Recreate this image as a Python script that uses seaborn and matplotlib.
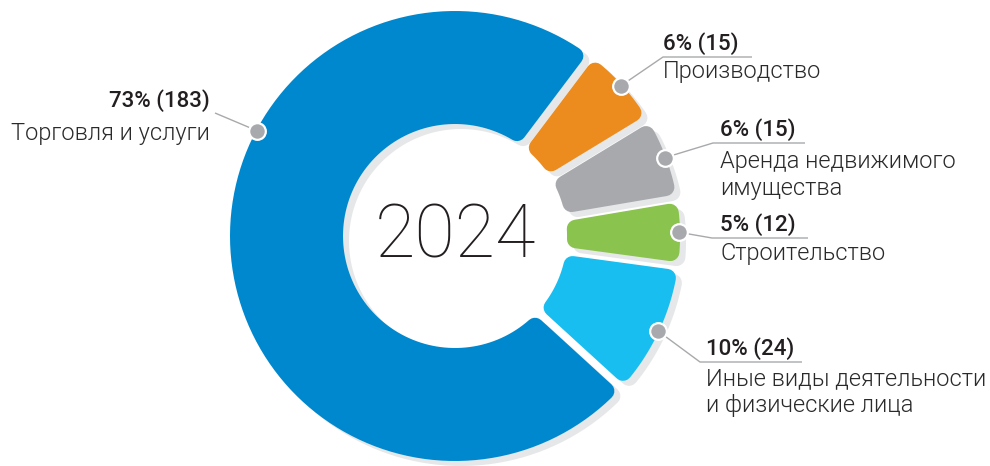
import numpy as np
import matplotlib
matplotlib.use("Agg")
import matplotlib.pyplot as plt
from matplotlib.patches import Polygon
import seaborn as sns

# Sector breakdown, 2024 (number of companies)
sectors = ["Производство", "Аренда недвижимого\nимущества", "Строительство",
           "Иные виды деятельности\nи физические лица", "Торговля и услуги"]
counts = [15, 15, 12, 24, 183]
palette = ["#EC8C1E", "#A7A9AC", "#8BC34F", "#18BEF0", "#0088CE"]
year_label = "2024"

sns.set_theme(style="white")
plt.rcParams["font.family"] = ["Roboto", "DejaVu Sans"]

W_PX, H_PX, DPI = 990, 466, 100
PX2PT = 72 / DPI
fig = plt.figure(figsize=(W_PX / DPI, H_PX / DPI), dpi=DPI)
ax = fig.add_axes([0, 0, 1, 1])

CENTER = (455, 230)
R_OUT, RING = 225, 113
CORNER = 9
GAP = 8
SHADOW = (6, -5)
SHADOW_COLOR = "#E6E7E8"
LINE_COLOR = "#A7A9AC"
TEXT_COLOR = "#231F20"

wedges, _ = ax.pie(counts, colors=palette, radius=R_OUT, center=CENTER,
                   startangle=53, counterclock=False,
                   explode=[0.025, 0.025, 0.025, 0.025, 0.0],
                   wedgeprops=dict(width=RING))


def rounded_sector(w, dx=0.0, dy=0.0, n=120):
    """Ring sector with parallel gaps, shrunk by CORNER so a round-join stroke restores it."""
    cx, cy = w.center
    cx, cy = cx + dx, cy + dy
    r_out, r_in = w.r - CORNER, w.r - w.width + CORNER
    d = GAP / 2 + CORNER
    t1, t2 = np.radians(w.theta1), np.radians(w.theta2)
    outer = np.linspace(t1 + np.arcsin(d / r_out), t2 - np.arcsin(d / r_out), n)
    inner = np.linspace(t2 - np.arcsin(d / r_in), t1 + np.arcsin(d / r_in), n)
    xs = np.r_[cx + r_out * np.cos(outer), cx + r_in * np.cos(inner)]
    ys = np.r_[cy + r_out * np.sin(outer), cy + r_in * np.sin(inner)]
    return np.c_[xs, ys]


for w in wedges:
    color = w.get_facecolor()
    ax.add_patch(Polygon(rounded_sector(w, *SHADOW), closed=True, facecolor=SHADOW_COLOR,
                         edgecolor=SHADOW_COLOR, linewidth=2 * CORNER * PX2PT,
                         joinstyle="round", zorder=1))
    ax.add_patch(Polygon(rounded_sector(w), closed=True, facecolor=color, edgecolor=color,
                         linewidth=2 * CORNER * PX2PT, joinstyle="round", zorder=2))
    w.set_visible(False)

ax.text(CENTER[0], CENTER[1] - 1, year_label, ha="center", va="center",
        fontsize=53, fontweight=100, color=TEXT_COLOR, zorder=5)

# label layout in pixels from the top-left corner
# (text x, percent baseline, name baseline, align, leader path after the dot)
layout = [
    (663, 50, 78, "left", [(663, 57), (752, 57)]),
    (720, 136, 168, "left", [(713, 143), (805, 143)]),
    (720, 231, 260, "left", [(712, 238), (808, 238)]),
    (706, 355, 385, "left", [(700, 362), (802, 362)]),
    (210, 107, 140, "right", [(215, 113)]),
]
anchor_angle = {4: 152.0}
LINE_STEP = 27

total = sum(counts)
for i, (w, name, n) in enumerate(zip(wedges, sectors, counts)):
    tx, py, ny, ha, path = layout[i]
    mid = anchor_angle.get(i, (w.theta1 + w.theta2) / 2)
    ax_, ay_ = w.center
    dot = (ax_ + (w.r - 1) * np.cos(np.radians(mid)), ay_ + (w.r - 1) * np.sin(np.radians(mid)))
    pts = [dot] + [(x, H_PX - y) for x, y in path]
    ax.plot([p[0] for p in pts], [p[1] for p in pts], color=LINE_COLOR, lw=1.0,
            solid_capstyle="butt", zorder=3)
    ax.plot(*dot, marker="o", ms=12, color=LINE_COLOR, mec="white", mew=1.6, zorder=4)
    pct = round(100 * n / total)
    ax.text(tx, H_PX - py, f"{pct}% ({n})", ha=ha, va="baseline", fontsize=16,
            fontweight=500, color=TEXT_COLOR, zorder=5)
    for k, line in enumerate(name.split("\n")):
        ax.text(tx, H_PX - ny - k * LINE_STEP, line, ha=ha, va="baseline", fontsize=17,
                fontweight=300, color="#2A2A2A", zorder=5)

ax.set_xlim(0, W_PX)
ax.set_ylim(0, H_PX)
ax.set_aspect("equal")
ax.axis("off")
fig.savefig("out.png", dpi=DPI, facecolor="white")
